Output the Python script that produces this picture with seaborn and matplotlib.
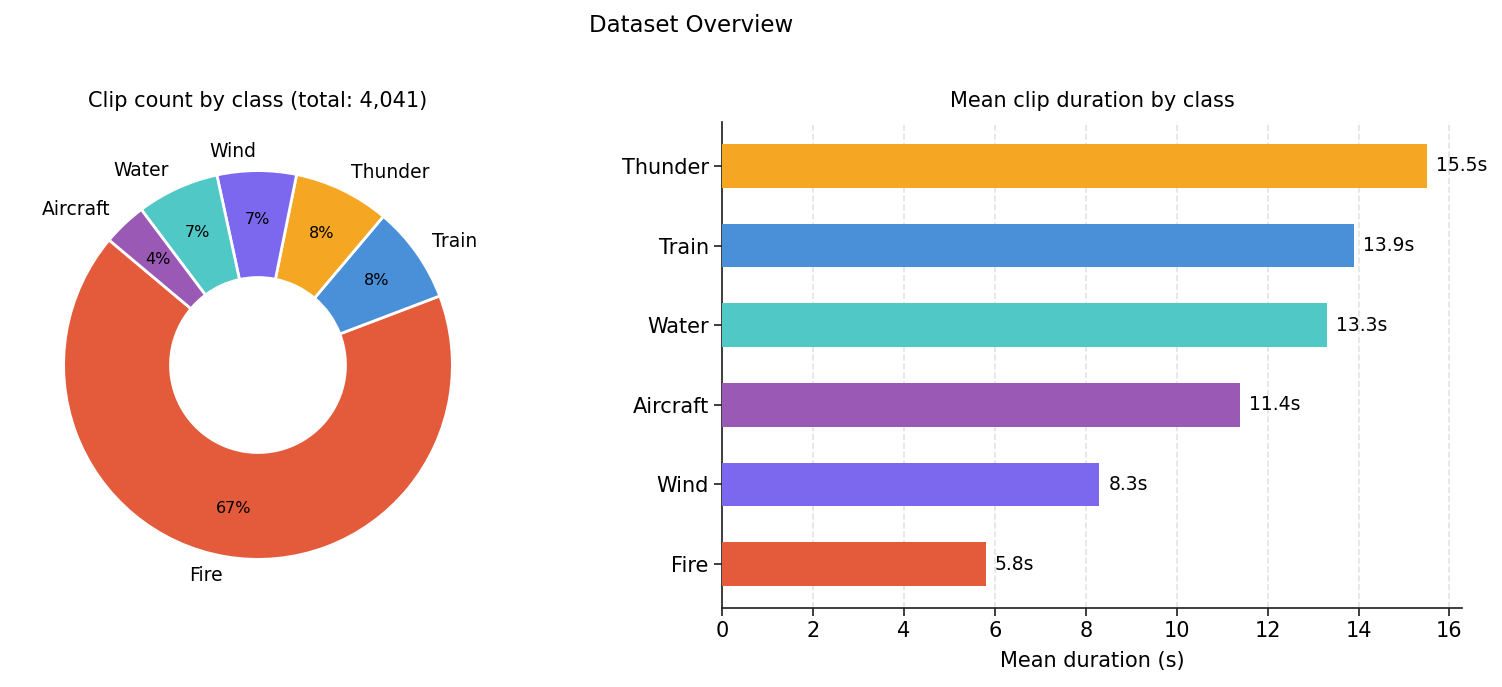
import matplotlib
matplotlib.use("Agg")
import matplotlib.pyplot as plt
import seaborn as sns
import pandas as pd

# ---- data ----
pie_classes = ["Fire", "Train", "Thunder", "Wind", "Water", "Aircraft"]
pie_counts = [2703, 326, 322, 266, 277, 147]
class_colors = {
    "Fire": "#E35B3A",
    "Train": "#4A90D9",
    "Thunder": "#F5A623",
    "Wind": "#7B68EE",
    "Water": "#50C8C6",
    "Aircraft": "#9B59B6",
}
bar_classes = ["Thunder", "Train", "Water", "Aircraft", "Wind", "Fire"]
bar_durations = [15.5, 13.9, 13.3, 11.4, 8.3, 5.8]

sns.set_theme(style="ticks")
plt.rcParams["font.family"] = ["DejaVu Sans"]
plt.rcParams["text.color"] = "black"
plt.rcParams["axes.labelcolor"] = "black"
plt.rcParams["xtick.labelcolor"] = "black"
plt.rcParams["ytick.labelcolor"] = "black"

W, H = 1502, 687
fig = plt.figure(figsize=(W / 100, H / 100), dpi=100)

ax_pie = fig.add_axes([15 / W, 79 / H, 486 / W, 486 / H])
ax_bar = fig.add_axes([722 / W, 79 / H, 740 / W, 486 / H])

# ---- donut ----
total = sum(pie_counts)
wedges, texts, autotexts = ax_pie.pie(
    pie_counts,
    labels=pie_classes,
    colors=[class_colors[c] for c in pie_classes],
    startangle=140,
    autopct="%1.0f%%",
    pctdistance=0.75,
    labeldistance=1.1,
    wedgeprops=dict(width=0.55, edgecolor="white", linewidth=2),
    textprops=dict(fontsize=13.5, color="black"),
)
for t in autotexts:
    t.set_fontsize(11.5)
    t.set_color("black")
ax_pie.set_title(f"Clip count by class (total: {total:,})", fontsize=15, pad=11)

# ---- bars ----
bar_h = 0.55
df = pd.DataFrame({"cls": bar_classes, "dur": bar_durations})
sns.barplot(
    data=df, x="dur", y="cls", hue="cls", order=bar_classes, hue_order=bar_classes,
    palette=[class_colors[c] for c in bar_classes], width=bar_h, legend=False,
    ax=ax_bar, saturation=1, linewidth=0, zorder=3,
)
for i, v in enumerate(bar_durations):
    ax_bar.text(v + 0.2, i, f"{v}s", va="center", ha="left", fontsize=13.5, color="black")
ax_bar.set_xlim(0, max(bar_durations) * 1.05)
n = len(bar_classes)
span = (n - 1) + bar_h
pad = 0.05 * span
ax_bar.set_ylim(n - 1 + bar_h / 2 + pad, -bar_h / 2 - pad)
ax_bar.set_ylabel("")
ax_bar.set_xlabel("Mean duration (s)", fontsize=15, labelpad=7)
ax_bar.set_title("Mean clip duration by class", fontsize=15, pad=11)
ax_bar.tick_params(axis="y", labelsize=15)
ax_bar.tick_params(axis="x", labelsize=15)
ax_bar.grid(axis="x", linestyle="--", color="#e3e3e3", linewidth=1.2, zorder=0)
ax_bar.set_axisbelow(True)
sns.despine(ax=ax_bar)

fig.suptitle("Dataset Overview", fontsize=16.5, x=691 / W, y=1 - 25 / H, va="center")
fig.savefig("out.png", dpi=100)
